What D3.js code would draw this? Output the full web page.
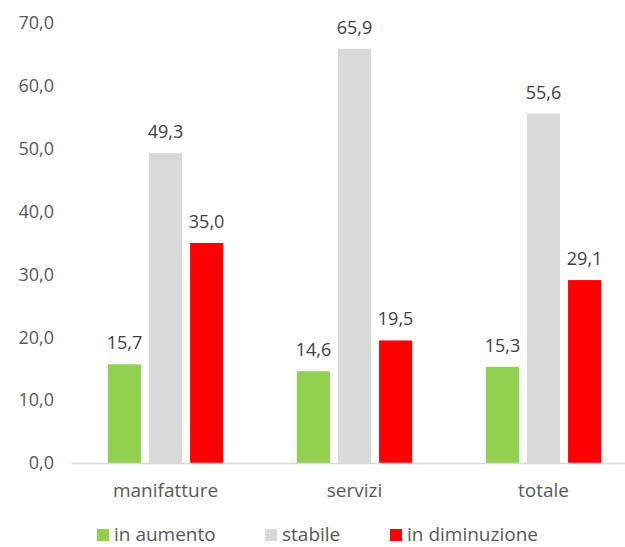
<!DOCTYPE html>
<html><head><meta charset="utf-8">
<script src="https://cdn.jsdelivr.net/npm/d3@7"></script>
<style>body{margin:0;background:#fff}svg{display:block}text{font-family:"Open Sans",sans-serif}</style>
</head><body><svg id="c" width="625" height="547"></svg>
<script>
const categories = ["manifatture", "servizi", "totale"];
const seriesNames = ["in aumento", "stabile", "in diminuzione"];
const inAumento = [15.7, 14.6, 15.3];
const stabile = [49.3, 65.9, 55.6];
const inDiminuzione = [35.0, 19.5, 29.1];
const yTicks = [0, 10, 20, 30, 40, 50, 60, 70];
const colors = ["#92d050", "#d9d9d9", "#ff0000"];

const seriesValues = [inAumento, stabile, inDiminuzione];
const svg = d3.select("#c");
const fmt = v => v.toFixed(1).replace(".", ",");

const y = d3.scaleLinear().domain([0, 70]).range([463, 23]);
const x0 = d3.scaleBand().domain(categories).range([71, 638]).paddingInner(0.39).paddingOuter(0.195);
const x1 = d3.scaleBand().domain(seriesNames).range([0, x0.bandwidth()]).paddingInner(0.195);

// y axis labels
const yAxis = d3.axisLeft(y).tickValues(yTicks).tickFormat(fmt).tickSize(0).tickPadding(0);
const yg = svg.append("g").attr("transform", "translate(54,0)").call(yAxis);
yg.select(".domain").remove();
yg.selectAll("text").attr("fill", "#595959").style("font-size", "18px").style("font-family", "'Open Sans',sans-serif");

// bars
const groups = svg.append("g").selectAll("g").data(categories).join("g")
  .attr("transform", d => `translate(${x0(d)},0)`);
seriesNames.forEach((s, si) => {
  groups.append("rect")
    .attr("x", x1(s))
    .attr("width", x1.bandwidth())
    .attr("y", (d, i) => y(seriesValues[si][i]))
    .attr("height", (d, i) => y(0) - y(seriesValues[si][i]))
    .attr("fill", colors[si]);
  groups.append("text")
    .attr("x", x1(s) + x1.bandwidth() / 2)
    .attr("y", (d, i) => y(seriesValues[si][i]) - 15)
    .attr("text-anchor", "middle")
    .attr("fill", "#404040")
    .style("font-size", "18px")
    .text((d, i) => fmt(seriesValues[si][i]));
});

// x axis
const xAxis = d3.axisBottom(x0).tickSize(0).tickPadding(0);
const xg = svg.append("g").attr("transform", `translate(0,${y(0)})`).call(xAxis);
xg.select(".domain").attr("stroke", "#d9d9d9").attr("stroke-width", 1.5);
xg.selectAll("text").attr("fill", "#595959").attr("dy", "1.8em").style("font-size", "19px").style("font-family", "'Open Sans',sans-serif");

// legend
const legX = [97, 265, 390];
const leg = svg.append("g");
seriesNames.forEach((s, i) => {
  leg.append("rect").attr("x", legX[i]).attr("y", 529).attr("width", 12).attr("height", 12).attr("fill", colors[i]);
  leg.append("text").attr("x", legX[i] + 17).attr("y", 541).attr("fill", "#595959").style("font-size", "19px").text(s);
});
</script></body></html>
